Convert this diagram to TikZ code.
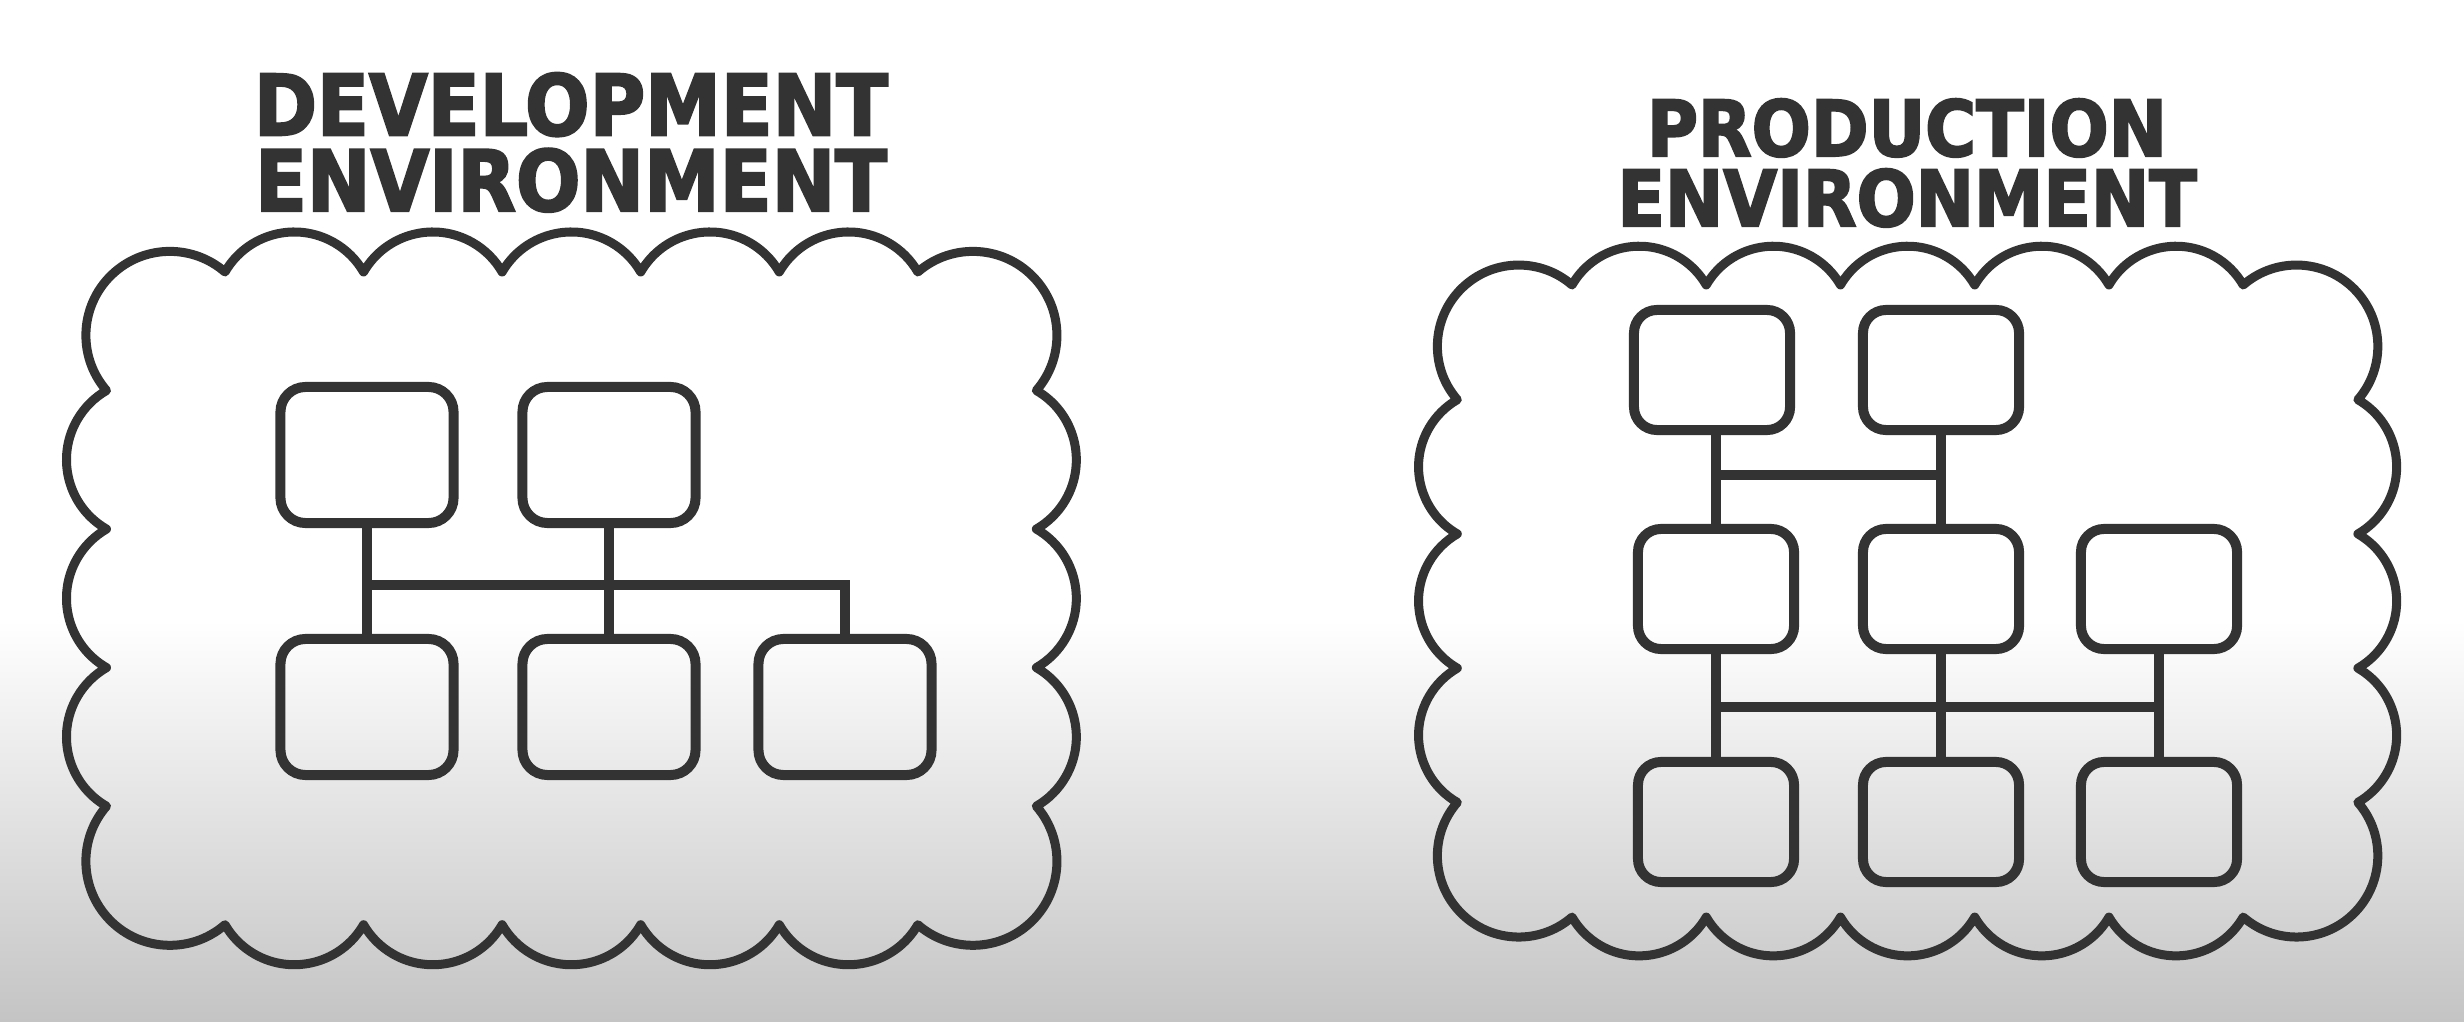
\documentclass[tikz,border=0pt]{standalone}
\usepackage{fontspec}
\newfontfamily\titlefont[FakeBold=2.5]{DejaVu Sans Condensed Bold}
\definecolor{ink}{HTML}{333333}
\definecolor{floor}{HTML}{C4C4C4}

\begin{document}
\begin{tikzpicture}[x=.01cm, y=.01cm,
    cloudline/.style={draw=ink, line width=.9mm, line join=round},
    devbox/.style={draw=ink, line width=1mm, rounded corners=.25cm, inner sep=0,
                   minimum width=1.73cm, minimum height=1.36cm},
    prodbox/.style={draw=ink, line width=1mm, rounded corners=.23cm, inner sep=0,
                    minimum width=1.56cm, minimum height=1.2cm},
    bus/.style={draw=ink, line width=1mm},
    title/.style={text=ink, align=center, anchor=north, inner sep=0}]
            \useasboundingbox (0,0) rectangle (2464,-1022);
            \fill[white] (0,0) rectangle (2464,-1022);
            \fill[top color=white, bottom color=floor] (0,-620) rectangle (2464,-1022);

            % development side
            \node[title, font=\titlefont\fontsize{24}{21.5}\selectfont] (devtitle) at (571,-72) {DEVELOPMENT\\ENVIRONMENT};

            \draw[cloudline] (225,-272)
                \foreach \k in {1,...,5} {arc[start angle=150, end angle=30, radius=80]}
                arc[start angle=131, end angle=-41, radius=84]
                \foreach \k in {1,...,3} {arc[start angle=60, end angle=-60, radius=80]}
                arc[start angle=41, end angle=-131, radius=84]
                \foreach \k in {1,...,5} {arc[start angle=-30, end angle=-150, radius=80]}
                arc[start angle=-49, end angle=-221, radius=84]
                \foreach \k in {1,...,3} {arc[start angle=240, end angle=120, radius=80]}
                arc[start angle=221, end angle=49, radius=84] -- cycle;

            \node[devbox] (dev1) at (367,-455) {};
            \node[devbox] (dev2) at (609,-455) {};
            \node[devbox] (dev3) at (367,-707) {};
            \node[devbox] (dev4) at (609,-707) {};
            \node[devbox] (dev5) at (845,-707) {};
            \coordinate (devbus) at (0,-585);

            \draw[bus] (dev1.south) -- (dev3.north);
            \draw[bus] (dev2.south) -- (dev4.north);
            \draw[bus] (dev1 |- devbus) -| (dev5.north);

            % production side
            \node[title, font=\titlefont\fontsize{22}{19.9}\selectfont] (prodtitle) at (1907,-98) {PRODUCTION\\ENVIRONMENT};

            \draw[cloudline] (1572,-285)
                \foreach \k in {1,...,5} {arc[start angle=150, end angle=30, radius=77.5]}
                arc[start angle=131, end angle=-41, radius=81.3]
                \foreach \k in {1,...,3} {arc[start angle=60, end angle=-60, radius=77.5]}
                arc[start angle=41, end angle=-131, radius=81.3]
                \foreach \k in {1,...,5} {arc[start angle=-30, end angle=-150, radius=77.5]}
                arc[start angle=-49, end angle=-221, radius=81.3]
                \foreach \k in {1,...,3} {arc[start angle=240, end angle=120, radius=77.5]}
                arc[start angle=221, end angle=49, radius=81.3] -- cycle;

            \node[prodbox] (prod1) at (1712,-370) {};
            \node[prodbox] (prod2) at (1941,-370) {};
            \node[prodbox] (prod3) at (1716,-589) {};
            \node[prodbox] (prod4) at (1941,-589) {};
            \node[prodbox] (prod5) at (2159,-589) {};
            \node[prodbox] (prod6) at (1716,-822) {};
            \node[prodbox] (prod7) at (1941,-822) {};
            \node[prodbox] (prod8) at (2159,-822) {};
            \coordinate (upbus) at (0,-475);
            \coordinate (lowbus) at (0,-707);

            \draw[bus] (prod3 |- prod1.south) -- (prod3.north);
            \draw[bus] (prod2.south) -- (prod4.north);
            \draw[bus] (prod3 |- upbus) -- (prod4 |- upbus);
            \draw[bus] (prod3.south) -- (prod6.north);
            \draw[bus] (prod4.south) -- (prod7.north);
            \draw[bus] (prod5.south) -- (prod8.north);
            \draw[bus] (prod3 |- lowbus) -- (prod5 |- lowbus);
        \end{tikzpicture}
\end{document}
